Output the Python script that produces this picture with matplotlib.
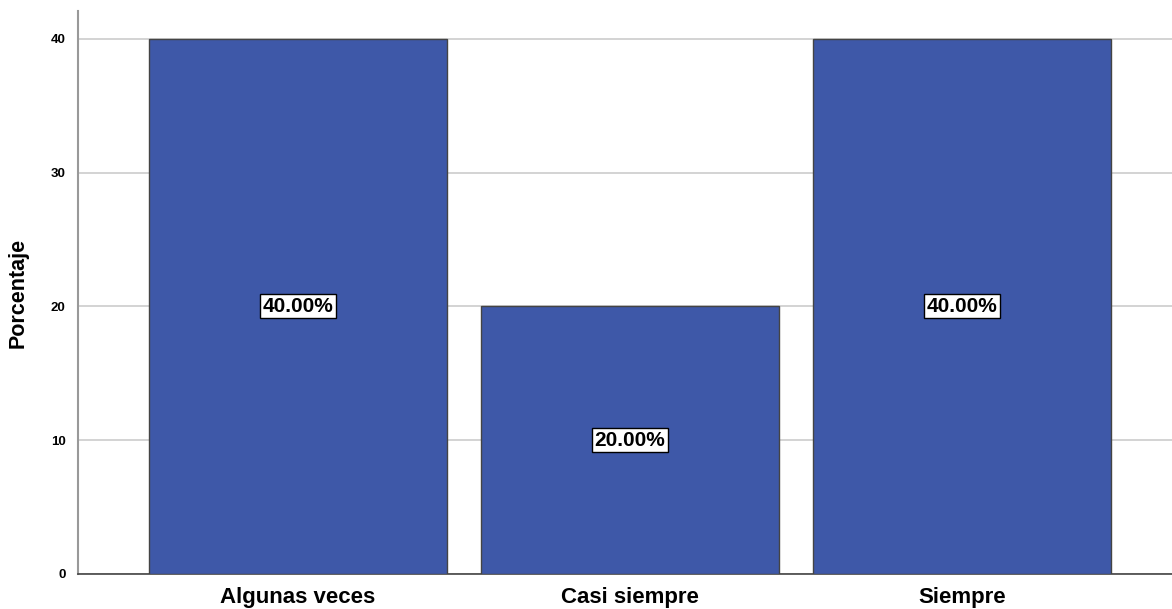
import numpy as np
import matplotlib
matplotlib.use('Agg')
import matplotlib.pyplot as plt

categorias = ['Algunas veces', 'Casi siempre', 'Siempre']
porcentajes = [40.0, 20.0, 40.0]
etiquetas = ['40.00%', '20.00%', '40.00%']

plt.rcParams['font.family'] = ['Liberation Sans', 'DejaVu Sans']

fig = plt.figure(figsize=(11.72, 6.09), dpi=100)
ax = fig.add_axes([78/1172, 35/609, 1 - 78/1172, (574-11)/609])

x = np.arange(len(categorias))
ax.bar(x, porcentajes, width=0.898, color='#3e58a8', edgecolor='#444444', linewidth=1.0, zorder=3)

for xi, v, lab in zip(x, porcentajes, etiquetas):
    ax.text(xi, v/2, lab, ha='center', va='center', fontsize=15, fontweight='bold', zorder=4,
            bbox=dict(boxstyle='square,pad=0.12', facecolor='white', edgecolor='black', linewidth=1.0))

ax.set_xlim(-0.663, 2.633)
ax.set_ylim(0, 42.09)
ax.set_yticks([0, 10, 20, 30, 40])
ax.set_yticklabels(['0', '10', '20', '30', '40'], fontsize=9.5, fontweight='bold')
ax.set_xticks(x)
ax.set_xticklabels(categorias, fontsize=16, fontweight='bold')
ax.tick_params(axis='both', length=0)
ax.tick_params(axis='y', pad=9)
ax.tick_params(axis='x', pad=9)
ax.yaxis.grid(True, color='#cccccc', linewidth=1.2, zorder=0)
ax.set_axisbelow(True)

for s in ['top', 'right']:
    ax.spines[s].set_visible(False)
ax.spines['left'].set_color('#999999')
ax.spines['left'].set_linewidth(1.5)
ax.spines['bottom'].set_color('#444444')
ax.spines['bottom'].set_linewidth(1.2)

ax.set_ylabel('Porcentaje', fontsize=15.5, fontweight='bold', labelpad=16)

fig.savefig('out.png', dpi=100)
